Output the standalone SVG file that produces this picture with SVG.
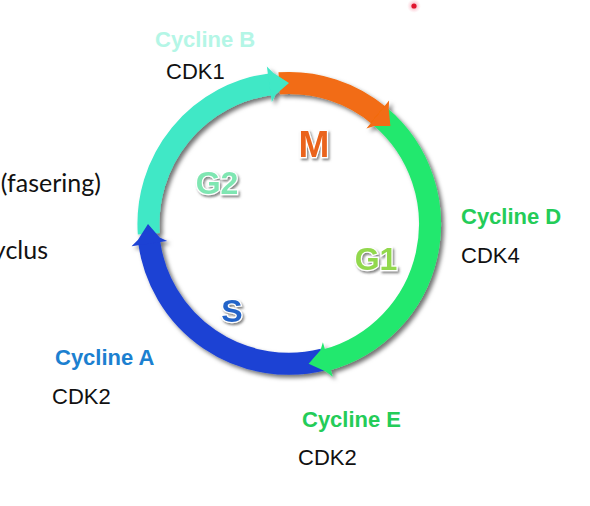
<svg xmlns="http://www.w3.org/2000/svg" width="590" height="506" viewBox="0 0 590 506">
<defs>
<style>
.cyc{font-family:"Liberation Sans",Arial,sans-serif;font-weight:bold;font-size:22px}
.cdk{font-family:"Liberation Sans",Arial,sans-serif;font-size:22px;fill:#111}
.side{font-family:Lato,"Open Sans",sans-serif;font-size:25px;fill:#111}
.ph{font-family:"Liberation Sans",Arial,sans-serif;font-weight:bold;text-anchor:middle;stroke:#ffffff;stroke-width:2.5px;paint-order:stroke;filter:url(#tsh)}
.band{fill:none;stroke-width:22}
</style>
<filter id="sh" x="-20%" y="-20%" width="140%" height="140%">
<feDropShadow dx="3" dy="3" stdDeviation="2.2" flood-color="#000" flood-opacity="0.55"/>
</filter>
<filter id="tsh" x="-30%" y="-30%" width="160%" height="160%">
<feDropShadow dx="1.5" dy="2" stdDeviation="1.2" flood-color="#555" flood-opacity="0.7"/>
</filter>
<radialGradient id="halo">
<stop offset="0" stop-color="#f04060" stop-opacity="0.6"/>
<stop offset="1" stop-color="#f8a0b0" stop-opacity="0"/>
</radialGradient>
</defs>
<rect width="590" height="506" fill="#ffffff"/>

<g id="connectors" filter="url(#sh)">
<path id="arc-g2" class="band" stroke="#3fe8c6" d="M 148.8 233.8 A 141 141 0 0 1 271.8 84.05"/>
<path id="arc-m" class="band" stroke="#f26c12" d="M 279.2 83.3 A 141 141 0 0 1 379.63 115.99"/>
<path id="arc-g1" class="band" stroke="#22e86e" d="M 379.63 115.99 A 141 141 0 0 1 325.49 360.2"/>
<path id="arc-s" class="band" stroke="#1c42d4" d="M 323.3 359.5 A 141 141 0 0 1 149.05 241.18"/>
<polygon id="head-g2" fill="#3fe8c6" points="271.88,102.2 275.41,94.71 289,83 273.11,72.83 266.87,66.55"/>
<polygon id="head-m" fill="#f26c12" points="366.41,128.41 374.29,125.89 390.43,126.05 388.72,109.28 389.06,100.43"/>
<polygon id="head-g1" fill="#22e86e" points="322.9,342.24 320.45,350.14 308.62,363.63 325.77,371.49 332.83,376.84"/>
<polygon id="head-s" fill="#1c42d4" points="167.2,241.12 159.71,237.59 148,224 137.83,239.89 131.55,246.13"/>
</g>

<g id="phase-M"><text class="ph" x="314" y="157" font-size="37" fill="#ea641a">M</text></g>
<g id="phase-G2"><text class="ph" x="217" y="194" font-size="32" fill="#7fe6b2">G2</text></g>
<g id="phase-G1"><text class="ph" x="376" y="270" font-size="32" fill="#92d84e">G1</text></g>
<g id="phase-S"><text class="ph" x="232" y="322" font-size="32" fill="#2464c8">S</text></g>

<g id="label-B"><text class="cyc" x="155" y="47" fill="#b4f6e6">Cycline B</text><text class="cdk" x="166" y="79">CDK1</text></g>
<g id="label-D"><text class="cyc" x="461" y="224" fill="#24cc58">Cycline D</text><text class="cdk" x="461" y="263">CDK4</text></g>
<g id="label-A"><text class="cyc" x="55" y="365" fill="#1c80d0">Cycline A</text><text class="cdk" x="52" y="404">CDK2</text></g>
<g id="label-E"><text class="cyc" x="302" y="427" fill="#24cc58">Cycline E</text><text class="cdk" x="298" y="465">CDK2</text></g>

<g id="side-text"><text class="side" x="101" y="192" text-anchor="end">(fasering)</text><text class="side" x="48" y="259" text-anchor="end">yclus</text></g>

<g id="dot"><circle cx="414" cy="6" r="7" fill="url(#halo)"/><circle cx="414" cy="6" r="2.6" fill="#e0142e"/></g>
</svg>
